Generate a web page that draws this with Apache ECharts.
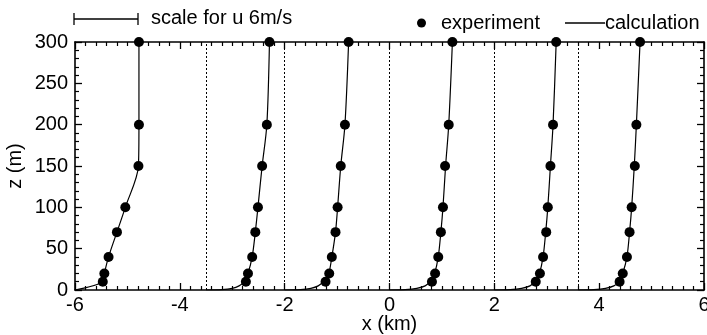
<!DOCTYPE html>
<html>
<head>
<meta charset="utf-8">
<script src="https://cdn.jsdelivr.net/npm/echarts@6/dist/echarts.min.js"></script>
<style>
  html, body { margin: 0; padding: 0; background: #fff; }
  #chart { width: 707px; height: 335px; }
</style>
</head>
<body>
<div id="chart"></div>
<script>
// measured heights (m)
const heights = [10, 20, 40, 70, 100, 150, 200, 300];
// experiment positions (km) for each profile
const exp1 = [-5.47, -5.44, -5.36, -5.20, -5.04, -4.79, -4.78, -4.78];
const exp2 = [-2.74, -2.70, -2.62, -2.56, -2.51, -2.43, -2.34, -2.29];
const exp3 = [-1.22, -1.15, -1.10, -1.03, -0.99, -0.93, -0.85, -0.78];
const exp4 = [0.81, 0.87, 0.93, 0.98, 1.02, 1.06, 1.13, 1.20];
const exp5 = [2.79, 2.87, 2.93, 2.99, 3.02, 3.07, 3.12, 3.18];
const exp6 = [4.39, 4.45, 4.53, 4.58, 4.62, 4.68, 4.71, 4.78];

// calculated profiles
const calcZ1 = [0, 10, 20, 40, 70, 100, 150, 200, 300];
const calc1 = [-6.0, -5.47, -5.44, -5.36, -5.20, -5.04, -4.79, -4.78, -4.78];
const calcZ = [0, 0.5, 2, 5, 10, 20, 40, 70, 100, 150, 200, 300];
const calc2 = [-3.5, -3.2, -3.0, -2.87, -2.77, -2.70, -2.62, -2.56, -2.51, -2.43, -2.34, -2.29];
const calc3 = [-2.0, -1.7, -1.5, -1.36, -1.26, -1.16, -1.10, -1.03, -0.99, -0.93, -0.85, -0.78];
const calc4 = [0.0, 0.3, 0.52, 0.68, 0.78, 0.86, 0.93, 0.98, 1.02, 1.07, 1.13, 1.20];
const calc5 = [2.0, 2.3, 2.52, 2.68, 2.78, 2.86, 2.93, 2.98, 3.02, 3.07, 3.12, 3.18];
const calc6 = [3.6, 3.9, 4.12, 4.28, 4.38, 4.45, 4.53, 4.58, 4.62, 4.67, 4.71, 4.78];

// u = 0 reference lines (km)
const baselines = [-3.5, -2, 0, 2, 3.6];

const font = 'Liberation Sans, Arial, Helvetica, sans-serif';
const fs = 20;
const pair = (xs, zs) => xs.map((x, i) => [x, zs[i]]);

const expPoints = [exp1, exp2, exp3, exp4, exp5, exp6].flatMap(p => pair(p, heights));
const calcLines = [
  pair(calc1, calcZ1),
  pair(calc2, calcZ),
  pair(calc3, calcZ),
  pair(calc4, calcZ),
  pair(calc5, calcZ),
  pair(calc6, calcZ)
];

const chart = echarts.init(document.getElementById('chart'));

const xBase = {
  type: 'value', min: -6, max: 6, interval: 2,
  axisLine: { show: true, onZero: false, lineStyle: { color: '#000', width: 1.6 } },
  axisTick: { show: true, inside: true, length: 7, lineStyle: { color: '#000', width: 1.3 } },
  minorTick: { show: true, splitNumber: 10, length: 4, lineStyle: { color: '#000', width: 1.2 } },
  splitLine: { show: false }
};
const yBase = {
  type: 'value', min: 0, max: 300, interval: 50,
  axisLine: { show: true, onZero: false, lineStyle: { color: '#000', width: 1.6 } },
  axisTick: { show: true, inside: true, length: 7, lineStyle: { color: '#000', width: 1.3 } },
  minorTick: { show: true, splitNumber: 5, length: 4, lineStyle: { color: '#000', width: 1.2 } },
  splitLine: { show: false }
};

let series = calcLines.map((d, i) => ({
  type: 'line',
  name: 'calculation',
  data: d,
  symbol: 'none',
  smooth: 0.3,
  lineStyle: { color: '#000', width: 1.2 },
  itemStyle: { color: '#000' },
  z: 3
}));
series[0].markLine = {
  silent: true,
  symbol: 'none',
  label: { show: false },
  lineStyle: { color: '#000', type: [2, 2], width: 1 },
  data: baselines.map(b => ({ xAxis: b }))
};
series.push({
  type: 'scatter',
  name: 'experiment',
  data: expPoints,
  symbol: 'circle',
  symbolSize: 10,
  itemStyle: { color: '#000', opacity: 1 },
  z: 4
});

chart.setOption({
  animation: false,
  textStyle: { fontFamily: font },
  grid: { left: 75, right: 3, top: 42, bottom: 45, outerBoundsMode: 'none' },
  legend: [
    {
      data: [{ name: 'experiment', icon: 'circle' }],
      left: 412, top: 8,
      itemWidth: 9, itemHeight: 9, itemGap: 0,
      textStyle: { fontFamily: font, fontSize: fs, color: '#000', padding: [0, 0, 0, 10] }
    },
    {
      data: [{ name: 'calculation', icon: 'rect' }],
      left: 560, top: 8,
      itemWidth: 40, itemHeight: 1.5,
      textStyle: { fontFamily: font, fontSize: fs, color: '#000', padding: [0, 0, 0, -5] }
    }
  ],
  graphic: [
    { type: 'line', shape: { x1: 74, y1: 19, x2: 138, y2: 19 }, style: { stroke: '#000', lineWidth: 1.3 } },
    { type: 'line', shape: { x1: 74, y1: 13, x2: 74, y2: 25 }, style: { stroke: '#000', lineWidth: 1.3 } },
    { type: 'line', shape: { x1: 138, y1: 13, x2: 138, y2: 25 }, style: { stroke: '#000', lineWidth: 1.3 } },
    { type: 'text', left: 151, top: 8, style: { text: 'scale for u 6m/s', fontFamily: font, fontSize: fs, fill: '#000' } }
  ],
  xAxis: [
    Object.assign({}, xBase, {
      position: 'bottom',
      name: 'x (km)', nameLocation: 'middle', nameGap: 24, nameMoveOverlap: false,
      nameTextStyle: { fontFamily: font, fontSize: fs, color: '#000' },
      axisLabel: { color: '#000', fontSize: fs, fontFamily: font, margin: 5 }
    }),
    Object.assign({}, xBase, { position: 'top', axisLabel: { show: false } })
  ],
  yAxis: [
    Object.assign({}, yBase, {
      position: 'left',
      name: 'z (m)', nameLocation: 'middle', nameGap: 50, nameMoveOverlap: false,
      nameTextStyle: { fontFamily: font, fontSize: fs, color: '#000' },
      axisLabel: { color: '#000', fontSize: fs, fontFamily: font, margin: 7 }
    }),
    Object.assign({}, yBase, { position: 'right', axisLabel: { show: false } })
  ],
  series: series
});
</script>
</body>
</html>
